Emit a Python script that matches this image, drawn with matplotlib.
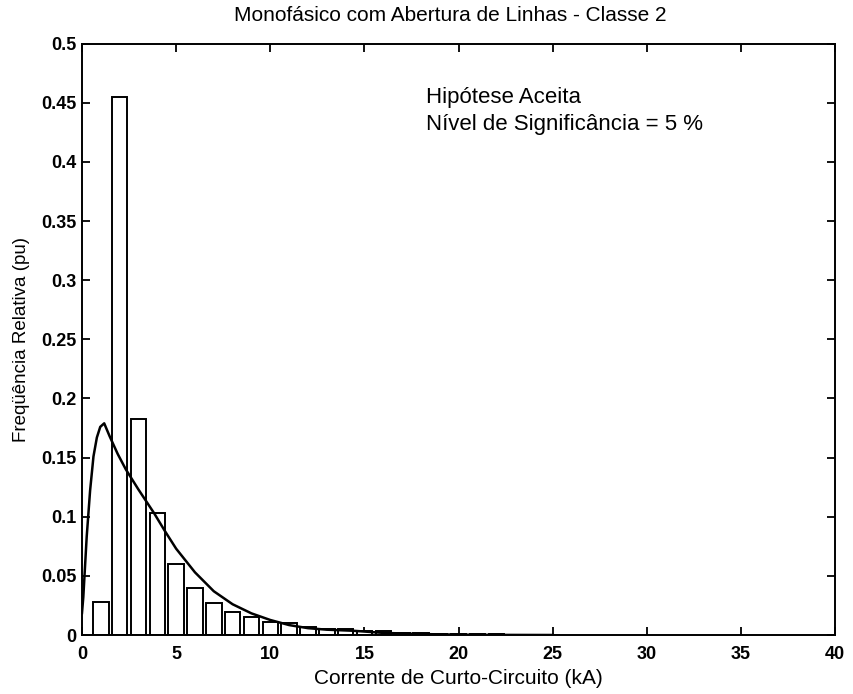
import matplotlib
matplotlib.use("Agg")
import matplotlib.pyplot as plt

plt.rcParams['font.family'] = ['Liberation Sans', 'DejaVu Sans']

# Histogram (relative frequency) – bin centres in kA
bin_centers = [1, 2, 3, 4, 5, 6, 7, 8, 9, 10, 11, 12, 13, 14, 15, 16, 17, 18,
               19, 20, 21, 22, 23, 24, 25]
rel_freq = [0.0275, 0.455, 0.183, 0.103, 0.060, 0.0395, 0.027, 0.0195, 0.0155,
            0.011, 0.0104, 0.0065, 0.0048, 0.005, 0.0035, 0.003, 0.002, 0.0015,
            0.0012, 0.001, 0.0008, 0.0005, 0.0004, 0.0003, 0.0002]

# Fitted density curve
curve_x = [0.0, 0.07, 0.25, 0.43, 0.61, 0.79, 0.97, 1.18, 1.47, 1.9, 2.33,
           3.0, 3.83, 4.4, 5.0, 6.0, 7.0, 8.0, 9.0, 10.0, 11.0, 12.0,
           13.0, 14.4, 16.0, 18.0, 20.0, 22.0, 25.0]
curve_y = [0.0186, 0.032, 0.083, 0.122, 0.151, 0.167, 0.176, 0.179, 0.168,
           0.153, 0.140, 0.123, 0.103, 0.088, 0.073, 0.053, 0.037, 0.026,
           0.0183, 0.0127, 0.0084, 0.0058, 0.0045, 0.0036, 0.0018, 0.0008,
           0.0003, 0.0001, 0.0]

x_ticks = [0, 5, 10, 15, 20, 25, 30, 35, 40]
y_ticks = [0, 0.05, 0.1, 0.15, 0.2, 0.25, 0.3, 0.35, 0.4, 0.45, 0.5]
y_tick_labels = ['0', '0.05', '0.1', '0.15', '0.2', '0.25', '0.3', '0.35',
                 '0.4', '0.45', '0.5']

fig = plt.figure(figsize=(8.54, 6.94), dpi=100)
ax = fig.add_axes([0.096, 0.085, 0.882, 0.852])

ax.bar(bin_centers, rel_freq, width=0.82, facecolor='white',
       edgecolor='black', linewidth=1.4, zorder=2)
ax.plot(curve_x, curve_y, color='black', linewidth=1.8, zorder=3)

ax.set_xlim(0, 40)
ax.set_ylim(0, 0.5)
ax.set_xticks(x_ticks)
ax.set_xticklabels([str(t) for t in x_ticks])
ax.set_yticks(y_ticks)
ax.set_yticklabels(y_tick_labels)
ax.tick_params(direction='in', length=6, width=1.3, top=True, right=True,
               labelsize=13, pad=4)
ax.tick_params(axis='x', pad=8)
for lab in ax.get_xticklabels() + ax.get_yticklabels():
    lab.set_fontweight('bold')
for sp in ax.spines.values():
    sp.set_linewidth(1.4)

ax.set_title('Monofásico com Abertura de Linhas - Classe 2', fontsize=15,
             pad=16, x=0.489)
ax.set_xlabel('Corrente de Curto-Circuito (kA)', fontsize=15, labelpad=4)
ax.set_ylabel('Freqüência Relativa (pu)', fontsize=13.5, labelpad=8)

ax.text(0.457, 0.909, 'Hipótese Aceita', transform=ax.transAxes,
        fontsize=16, va='center', ha='left')
ax.text(0.457, 0.863, 'Nível de Significância = 5 %', transform=ax.transAxes,
        fontsize=16, va='center', ha='left')

fig.savefig('out.png', dpi=100)
